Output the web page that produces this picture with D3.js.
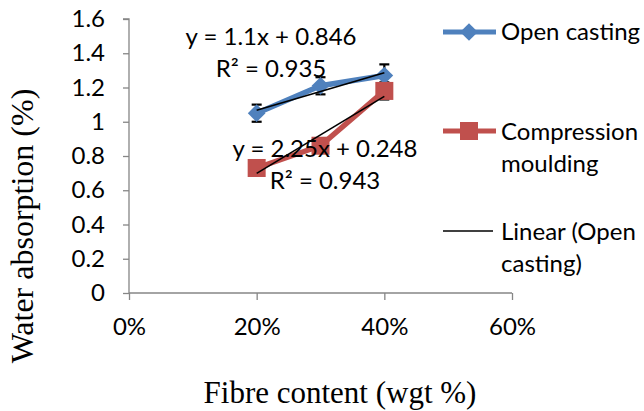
<!DOCTYPE html>
<html>
<head>
<meta charset="utf-8">
<script src="https://cdn.jsdelivr.net/npm/d3@7"></script>
<style>
  body { margin: 0; background: #fff; }
  text { font-family: Lato, "Open Sans", sans-serif; fill: #000; }
  .title { font-family: "Liberation Serif", "DejaVu Serif", serif; }
</style>
</head>
<body>
<div id="chart"></div>
<script>
// Chart data
const fibre = [0.2, 0.3, 0.4];
const openCasting = [1.05, 1.21, 1.27];
const openErr = [0.05, 0.05, 0.065];
const compression = [0.73, 0.86, 1.18];
const compErr = [0.03, 0.03, 0.05];
const xTicks = [0, 0.2, 0.4, 0.6];
const yTicks = [0, 0.2, 0.4, 0.6, 0.8, 1, 1.2, 1.4, 1.6];
const eqOpen = ["y = 1.1x + 0.846", "R² = 0.935"];
const eqComp = ["y = 2.25x + 0.248", "R² = 0.943"];

const width = 644, height = 411;
const blue = "#4F81BD", red = "#C0504D", axisGrey = "#868686";
const fs = "24px";

const svg = d3.select("#chart").append("svg")
  .attr("width", width)
  .attr("height", height);

const x = d3.scaleLinear().domain([0, 0.6]).range([129, 512]);
const y = d3.scaleLinear().domain([0, 1.6]).range([293, 19]);

// Axes
const yAxis = svg.append("g")
  .attr("transform", `translate(${x(0)},0)`)
  .call(d3.axisLeft(y).tickValues(yTicks).tickSize(6).tickPadding(18)
    .tickFormat(d => d3.format("")(+d.toFixed(1))));
const xAxis = svg.append("g")
  .attr("transform", `translate(0,${y(0)})`)
  .call(d3.axisBottom(x).tickValues(xTicks).tickSize(7).tickPadding(15)
    .tickFormat(d3.format(".0%")));

[yAxis, xAxis].forEach(a => {
  a.select(".domain").attr("stroke", axisGrey).attr("stroke-width", 1.3);
  a.selectAll(".tick line").attr("stroke", axisGrey).attr("stroke-width", 1.3);
  a.selectAll(".tick text").style("font-size", fs).attr("fill", "#000");
});
yAxis.select(".domain").attr("d", `M-6,${y(1.6)}H0V${y(0)}`);
xAxis.select(".domain").attr("d", `M${x(0)},0H${x(0.6)}`);
xAxis.selectAll(".tick text").attr("dy", "0.85em");

// Axis titles
svg.append("text")
  .attr("class", "title")
  .attr("x", 340).attr("y", 403)
  .attr("text-anchor", "middle")
  .style("font-size", "31px")
  .text("Fibre content (wgt %)");

svg.append("text")
  .attr("class", "title")
  .attr("transform", "translate(33,226) rotate(-90)")
  .attr("text-anchor", "middle")
  .style("font-size", "32px")
  .text("Water absorption (%)");

const line = d3.line()
  .x((d, i) => x(fibre[i]))
  .y(d => y(d));

// Series lines
[[openCasting, blue], [compression, red]].forEach(([vals, col]) => {
  svg.append("path")
    .datum(vals)
    .attr("d", line)
    .attr("fill", "none")
    .attr("stroke", col)
    .attr("stroke-width", 5.5)
    .attr("stroke-linejoin", "round");
});

// Error bars
function errorBars(vals, errs) {
  const g = svg.append("g").attr("stroke", "#000").attr("stroke-width", 2.2);
  vals.forEach((v, i) => {
    const cx = x(fibre[i]);
    g.append("line").attr("x1", cx).attr("x2", cx)
      .attr("y1", y(v - errs[i])).attr("y2", y(v + errs[i]));
    [v - errs[i], v + errs[i]].forEach(e => {
      g.append("line").attr("x1", cx - 5).attr("x2", cx + 5)
        .attr("y1", y(e)).attr("y2", y(e));
    });
  });
}
errorBars(openCasting, openErr);
errorBars(compression, compErr);

// Markers
const diamond = d3.symbol().type(d3.symbolDiamond2).size(200);
svg.append("g").selectAll("path")
  .data(openCasting)
  .join("path")
  .attr("d", diamond)
  .attr("transform", (d, i) => `translate(${x(fibre[i])},${y(d)})`)
  .attr("fill", blue);

svg.append("g").selectAll("rect")
  .data(compression)
  .join("rect")
  .attr("x", (d, i) => x(fibre[i]) - 9)
  .attr("y", d => y(d) - 9)
  .attr("width", 18).attr("height", 18)
  .attr("fill", red);

// Linear trendlines (least squares over the data)
function fit(vals) {
  const mx = d3.mean(fibre), my = d3.mean(vals);
  const b = d3.sum(fibre, (f, i) => (f - mx) * (vals[i] - my)) /
            d3.sum(fibre, f => (f - mx) * (f - mx));
  return [b, my - b * mx];
}
[openCasting, compression].forEach(vals => {
  const [b, a] = fit(vals);
  const x0 = fibre[0], x1 = fibre[fibre.length - 1];
  svg.append("line")
    .attr("x1", x(x0)).attr("y1", y(a + b * x0))
    .attr("x2", x(x1)).attr("y2", y(a + b * x1))
    .attr("stroke", "#000").attr("stroke-width", 1.6);
});

// Equation labels
function eqLabel(lines, cx, y0) {
  lines.forEach((t, i) => {
    svg.append("text")
      .attr("x", cx).attr("y", y0 + i * 32)
      .attr("text-anchor", "middle")
      .style("font-size", fs)
      .text(t);
  });
}
eqLabel(eqOpen, 271, 45);
eqLabel(eqComp, 325, 157);

// Legend
const legend = svg.append("g");
const lx0 = 443, lx1 = 496, tx = 501;

legend.append("line").attr("x1", lx0).attr("x2", lx1).attr("y1", 32).attr("y2", 32)
  .attr("stroke", blue).attr("stroke-width", 5);
legend.append("path").attr("d", diamond).attr("transform", "translate(469,32)").attr("fill", blue);
legend.append("text").attr("x", tx).attr("y", 40).style("font-size", fs).text("Open casting");

legend.append("line").attr("x1", lx0).attr("x2", lx1).attr("y1", 131).attr("y2", 131)
  .attr("stroke", red).attr("stroke-width", 5);
legend.append("rect").attr("x", 460).attr("y", 122).attr("width", 18).attr("height", 18).attr("fill", red);
legend.append("text").attr("x", tx).attr("y", 140).style("font-size", fs).text("Compression");
legend.append("text").attr("x", tx).attr("y", 172).style("font-size", fs).text("moulding");

legend.append("line").attr("x1", lx0).attr("x2", 493).attr("y1", 231).attr("y2", 231)
  .attr("stroke", "#000").attr("stroke-width", 1.6);
legend.append("text").attr("x", tx).attr("y", 240).style("font-size", fs).text("Linear (Open");
legend.append("text").attr("x", tx).attr("y", 272).style("font-size", fs).text("casting)");
</script>
</body>
</html>
